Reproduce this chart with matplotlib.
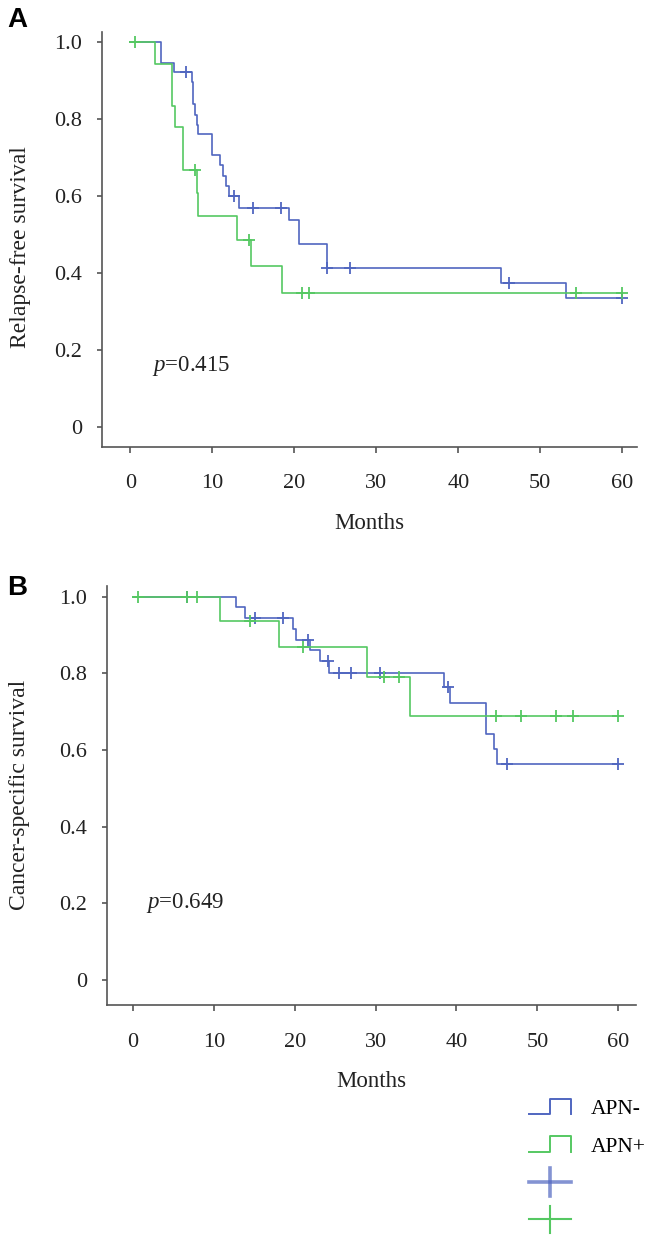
import numpy as np
import matplotlib
matplotlib.use('Agg')
import matplotlib.pyplot as plt
from matplotlib.lines import Line2D
from matplotlib.legend_handler import HandlerBase

plt.rcParams['font.family'] = ['Liberation Serif', 'DejaVu Serif']
plt.rcParams['mathtext.fontset'] = 'custom'
plt.rcParams['mathtext.it'] = 'Liberation Serif:italic'
plt.rcParams['mathtext.rm'] = 'Liberation Serif'

# Panel A - relapse-free survival (months, survival after each step)
rfs_neg_t = [0, 3.8, 5.3, 7.5, 7.7, 7.9, 8.1, 8.2, 10.0, 10.9, 11.3, 11.7, 12.0, 13.2,
             19.4, 20.6, 24.0, 45.2, 53.1, 60.0]
rfs_neg_s = [1.0, 0.947, 0.922, 0.898, 0.841, 0.811, 0.785, 0.761, 0.707, 0.681, 0.652,
             0.627, 0.601, 0.570, 0.538, 0.475, 0.412, 0.375, 0.334, 0.334]
rfs_neg_cens = [6.8, 12.6, 15.0, 18.4, 24.0, 26.8, 46.2, 60.0]

rfs_pos_t = [0, 3.0, 5.1, 5.4, 6.4, 8.1, 8.2, 13.0, 14.7, 18.5, 60.0]
rfs_pos_s = [1.0, 0.945, 0.834, 0.779, 0.668, 0.607, 0.548, 0.487, 0.418, 0.349, 0.349]
rfs_pos_cens = [0.6, 7.9, 14.5, 20.9, 21.8, 54.4, 60.0]

# Panel B - cancer-specific survival
css_neg_t = [0, 12.7, 13.9, 19.8, 20.2, 21.9, 23.1, 24.2, 38.4, 39.2, 43.7, 44.7, 45.0, 60.0]
css_neg_s = [1.0, 0.974, 0.945, 0.917, 0.887, 0.861, 0.833, 0.800, 0.764, 0.722, 0.641,
             0.603, 0.564, 0.564]
css_neg_cens = [6.7, 15.1, 18.5, 21.7, 24.1, 25.5, 26.9, 30.6, 38.9, 46.2, 60.0]

css_pos_t = [0, 10.75, 18.0, 28.9, 34.2, 60.0]
css_pos_s = [1.0, 0.937, 0.870, 0.790, 0.690, 0.690]
css_pos_cens = [0.66, 6.7, 7.9, 14.5, 21.0, 31.1, 32.9, 44.9, 48.0, 52.3, 54.4, 60.0]

x_ticks = [0, 10, 20, 30, 40, 50, 60]
y_ticks = [0, 0.2, 0.4, 0.6, 0.8, 1.0]
y_ticklabels = ['0', '0.2', '0.4', '0.6', '0.8', '1.0']
group_labels = ['APN-', 'APN+']

blue = '#5066c0'
green = '#55c862'
axis_col = '#555555'


def km(ax, t, s, cens, color):
    ax.step(t, s, where='post', color=color, lw=1.2)
    t = np.asarray(t)
    s = np.asarray(s)
    idx = np.searchsorted(t, cens, side='right') - 1
    ax.plot(cens, s[idx], ls='none', marker='+', ms=8, mew=1.3, color=color)


def style(ax, xlim, ylim, ylabel, ylab_xy):
    ax.set_xlim(*xlim)
    ax.set_ylim(*ylim)
    ax.spines['top'].set_visible(False)
    ax.spines['right'].set_visible(False)
    for sp in ['left', 'bottom']:
        ax.spines[sp].set_color(axis_col)
        ax.spines[sp].set_linewidth(1.2)
    ax.set_xticks(x_ticks)
    ax.set_yticks(y_ticks)
    ax.set_yticklabels(y_ticklabels)
    ax.tick_params(axis='x', direction='out', length=4.5, width=1.2, color=axis_col,
                   labelsize=16, pad=15, labelcolor='#222222')
    ax.tick_params(axis='y', direction='out', length=3.6, width=1.2, color=axis_col,
                   labelsize=16, pad=10.5, labelcolor='#222222')
    ax.set_xlabel('Months', fontsize=16.5, labelpad=14, color='#222222')
    ax.set_ylabel(ylabel, fontsize=17, color='#222222')
    ax.yaxis.label.set_va('center')
    ax.yaxis.set_label_coords(*ylab_xy)


fig = plt.figure(figsize=(6.57, 12.47), dpi=100)

axA = fig.add_axes([0.1553, 0.6415, 0.8138, 0.3328])
km(axA, rfs_neg_t, rfs_neg_s, rfs_neg_cens, blue)
km(axA, rfs_pos_t, rfs_pos_s, rfs_pos_cens, green)
style(axA, (-3.45, 61.76), (-0.053, 1.027), 'Relapse-free survival', (-0.153, 0.483))
axA.text(2.7, 0.158, '$p$=0.415', fontsize=16.5, ha='left', va='center', color='#222222')

axB = fig.add_axes([0.1624, 0.1937, 0.8056, 0.3361])
km(axB, css_neg_t, css_neg_s, css_neg_cens, blue)
km(axB, css_pos_t, css_pos_s, css_pos_cens, green)
style(axB, (-3.25, 62.2), (-0.066, 1.027), 'Cancer-specific survival', (-0.164, 0.502))
axB.text(1.6, 0.2, '$p$=0.649', fontsize=16.5, ha='left', va='center', color='#222222')

fig.text(7 / 657, 1 - 7 / 1247, 'A', ha='left', va='top', fontsize=20,
         fontweight='bold', family=['Liberation Sans', 'DejaVu Sans'])
fig.text(7 / 657, 1 - 575 / 1247, 'B', ha='left', va='top', fontsize=20,
         fontweight='bold', family=['Liberation Sans', 'DejaVu Sans'])


# legend handles: step icon for the groups, cross icon for censored marks
class StepHandler(HandlerBase):
    def create_artists(self, legend, orig_handle, xdescent, ydescent, width, height,
                       fontsize, trans):
        x0, y0 = -xdescent, -ydescent
        xs = [x0, x0 + width / 2, x0 + width / 2, x0 + width, x0 + width]
        ys = [y0, y0, y0 + height, y0 + height, y0]
        return [Line2D(xs, ys, color=orig_handle.get_color(), lw=1.4, transform=trans)]


class CrossHandler(HandlerBase):
    def create_artists(self, legend, orig_handle, xdescent, ydescent, width, height,
                       fontsize, trans):
        x0, y0 = -xdescent, -ydescent
        yc = y0 + height / 2
        lw = orig_handle.get_linewidth()
        c = orig_handle.get_color()
        a = orig_handle.get_alpha()
        h = Line2D([x0, x0 + width], [yc, yc], color=c, lw=lw, alpha=a, transform=trans)
        v = Line2D([x0 + width / 2, x0 + width / 2], [yc - 10, yc + 10], color=c, lw=lw,
                   alpha=a, transform=trans)
        return [h, v]


step_neg = Line2D([], [], color=blue)
step_pos = Line2D([], [], color=green)
cross_neg = Line2D([], [], color=blue, lw=2.6, alpha=0.7)
cross_pos = Line2D([], [], color=green, lw=1.5)

fig.legend([step_neg, step_pos, cross_neg, cross_pos], group_labels + ['', ''],
           loc='upper left', bbox_to_anchor=(518 / 657, 1 - 1088 / 1247),
           frameon=False, fontsize=15.5, borderpad=0, handlelength=1.95,
           handletextpad=0.95, labelspacing=0.82,
           handler_map={step_neg: StepHandler(), step_pos: StepHandler(),
                        cross_neg: CrossHandler(), cross_pos: CrossHandler()})

fig.savefig('out.png', dpi=100)
